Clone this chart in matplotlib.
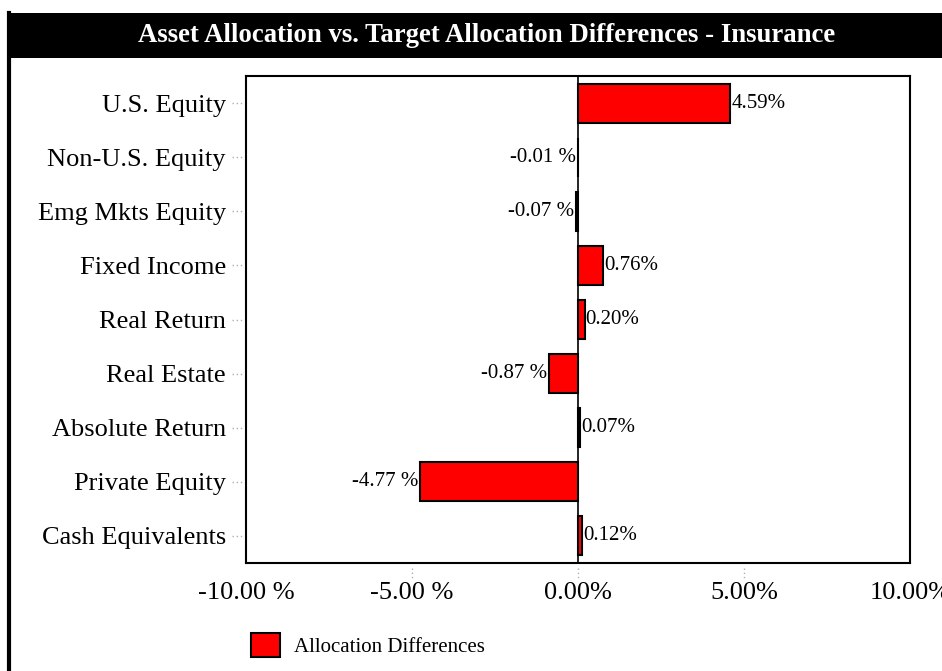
import matplotlib.pyplot as plt
from matplotlib.patches import Rectangle
from matplotlib.lines import Line2D

categories = ["U.S. Equity", "Non-U.S. Equity", "Emg Mkts Equity", "Fixed Income",
              "Real Return", "Real Estate", "Absolute Return", "Private Equity",
              "Cash Equivalents"]
differences = [4.59, -0.01, -0.07, 0.76, 0.20, -0.87, 0.07, -4.77, 0.12]
xticks = [-10, -5, 0, 5, 10]
xtick_labels = ["-10.00 %", "-5.00 %", "0.00%", "5.00%", "10.00%"]

plt.rcParams['font.family'] = ['Liberation Serif', 'DejaVu Serif']

W, H = 942, 671
fig = plt.figure(figsize=(W / 100, H / 100), dpi=100)

# title bar
fig.patches.append(Rectangle((7 / W, 1 - 58 / H), 1, 45 / H, transform=fig.transFigure,
                             facecolor='black', edgecolor='none'))
fig.text(487 / W, 1 - 36 / H, "Asset Allocation vs. Target Allocation Differences - Insurance",
         color='white', fontsize=19.3, fontweight='bold', ha='center', va='center')
fig.lines.append(Line2D([8.5 / W, 8.5 / W], [0, 1 - 13 / H], transform=fig.transFigure,
                        color='black', lw=3))

ax = fig.add_axes([246 / W, 1 - 563 / H, (910 - 246) / W, (563 - 76) / H])
y = list(range(len(categories)))
ax.barh(y, differences, height=0.72, color='red', edgecolor='black', linewidth=1.5,
        label='Allocation Differences')
ax.set_ylim(len(categories) - 0.5, -0.5)
ax.set_xlim(-10, 10)
ax.axvline(0, color='black', lw=1.2)

for yi, v in zip(y, differences):
    if v >= 0:
        ax.text(v + 0.03, yi, f"{v:.2f}%", ha='left', va='center', fontsize=15)
    else:
        ax.text(v - 0.05, yi, f"{v:.2f} %", ha='right', va='center', fontsize=15)

ax.set_yticks(y)
ax.set_yticklabels(categories, fontsize=19)
ax.set_xticks(xticks)
ax.set_xticklabels(xtick_labels, fontsize=19)
ax.tick_params(axis='y', length=0, pad=14.5)
ax.tick_params(axis='x', length=0, pad=14)

# dotted grey tick marks
for yi in y:
    ax.plot([-0.021, -0.004], [yi, yi], transform=ax.get_yaxis_transform(), clip_on=False,
            color='#b0b0b0', lw=1, ls=(0, (1, 2)))
for xt in xticks[1:-1]:
    ax.plot([xt, xt], [-0.01, -0.035], transform=ax.get_xaxis_transform(), clip_on=False,
            color='#b0b0b0', lw=1, ls=(0, (1, 2)))
for s in ax.spines.values():
    s.set_linewidth(1.5)

ax.legend(loc='center left', bbox_to_anchor=(232 / W, 1 - 645 / H),
          bbox_transform=fig.transFigure, frameon=False, fontsize=15,
          handlelength=1.4, handleheight=1.4, handletextpad=0.7)

fig.savefig("out.png", dpi=100)
